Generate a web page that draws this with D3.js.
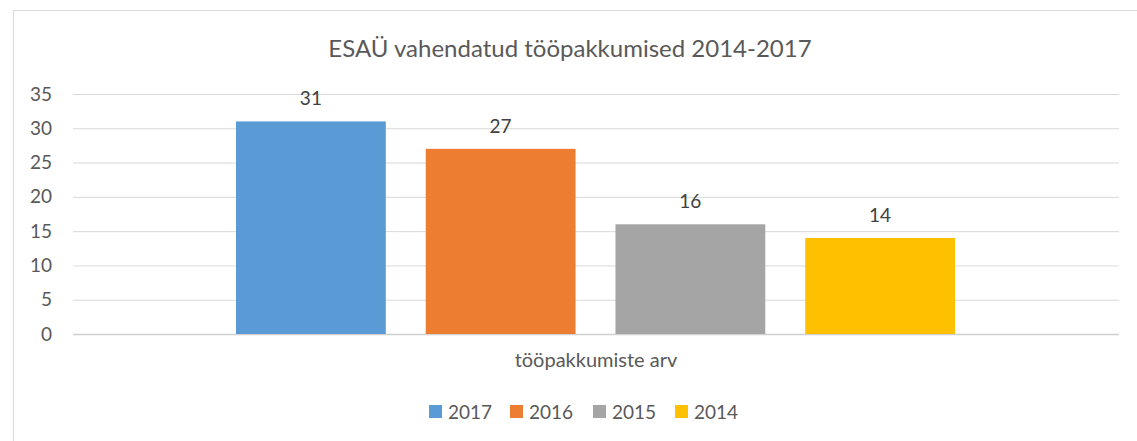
<!DOCTYPE html>
<html><head><meta charset="utf-8">
<script src="https://cdn.jsdelivr.net/npm/d3@7"></script>
<style>body{margin:0;background:#fff;}svg{display:block;}text{font-family:Lato,"Open Sans",sans-serif;}</style>
</head><body>
<script>
const title = "ESAÜ vahendatud tööpakkumised 2014-2017";
const category = "tööpakkumiste arv";
const series = ["2017","2016","2015","2014"];
const values = [31,27,16,14];
const colors = ["#5b9bd5","#ed7d31","#a5a5a5","#ffc000"];
const yTicks = [0,5,10,15,20,25,30,35];

const W=1137,H=441;
const svg=d3.select("body").append("svg").attr("width",W).attr("height",H);
svg.append("rect").attr("x",13.5).attr("y",10.5).attr("width",W).attr("height",H).attr("fill","#fff").attr("stroke","#d9d9d9");

const x0=73,x1=1119,yTop=94,yBot=334;
const y=d3.scaleLinear().domain([0,35]).range([yBot,yTop]);
const xCat=d3.scaleBand().domain([category]).range([x0,x1]).paddingInner(0).paddingOuter(0);
const xs=d3.scaleBand().domain(series).range([236,955]).paddingInner(40/190).paddingOuter(0);

const yAxis=d3.axisLeft(y).tickValues(yTicks).tickSize(-(x1-x0)).tickFormat(d3.format("d"));
const g=svg.append("g").attr("transform",`translate(${x0},0)`).call(yAxis);
g.select(".domain").remove();
g.selectAll(".tick line").attr("stroke","#d9d9d9").attr("stroke-width",1);
g.selectAll(".tick text").attr("x",-21).attr("fill","#595959").style("font-size","19px").style("font-family","Lato,'Open Sans',sans-serif");
g.selectAll(".tick").filter(d=>d===0).select("line").attr("stroke","#d0d0d0").attr("stroke-width",1.5);

svg.selectAll("rect.bar").data(values).enter().append("rect").attr("class","bar")
 .attr("x",(d,i)=>xs(series[i])).attr("width",xs.bandwidth())
 .attr("y",d=>y(d)).attr("height",d=>yBot-y(d)).attr("fill",(d,i)=>colors[i]);

svg.selectAll("text.lbl").data(values).enter().append("text").attr("class","lbl")
 .attr("x",(d,i)=>xs(series[i])+xs.bandwidth()/2).attr("y",d=>y(d)-16)
 .attr("text-anchor","middle").attr("fill","#404040").style("font-size","19px").text(d=>d);

svg.append("text").attr("x",570).attr("y",57).attr("text-anchor","middle").attr("fill","#595959").style("font-size","24px").text(title);
svg.append("text").attr("x",xCat(category)+xCat.bandwidth()/2).attr("y",367).attr("text-anchor","middle").attr("fill","#595959").style("font-size","20px").text(category);

const legX=[429,510,593,675];
const lg=svg.selectAll("g.leg").data(series).enter().append("g").attr("class","leg").attr("transform",(d,i)=>`translate(${legX[i]},405)`);
lg.append("rect").attr("width",13).attr("height",13).attr("fill",(d,i)=>colors[i]);
lg.append("text").attr("x",19).attr("y",13.5).attr("fill","#595959").style("font-size","19px").text(d=>d);
</script>
</body></html>
